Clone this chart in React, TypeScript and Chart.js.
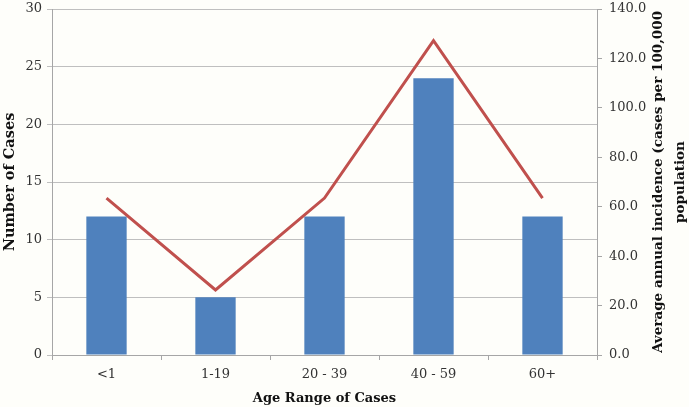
import React, { useEffect, useRef } from "react";
import { Chart, registerables } from "chart.js";

Chart.register(...registerables);

const categories = ["<1", "1-19", "20 - 39", "40 - 59", "60+"];
const caseCounts = [12, 5, 12, 24, 12];
const incidence = [63.5, 26.3, 63.5, 127.2, 63.5];
const rightTitle = ["Average annual incidence (cases per 100,000", "population"];

const FONT = "'DejaVu Serif', 'Liberation Serif', serif";

const bgPlugin = {
  id: "bg",
  beforeDraw(chart: any) {
    const { ctx, width, height } = chart;
    ctx.save();
    ctx.fillStyle = "#FEFEFA";
    ctx.fillRect(0, 0, width, height);
    ctx.restore();
  },
};

const rightTitlePlugin = {
  id: "rightTitle",
  afterDraw(chart: any) {
    const { ctx, chartArea, width } = chart;
    const cy = (chartArea.top + chartArea.bottom) / 2;
    ctx.save();
    ctx.fillStyle = "#111";
    ctx.font = `bold 13.5px ${FONT}`;
    ctx.textAlign = "center";
    ctx.textBaseline = "middle";
    const xs = [width - 31, width - 9];
    rightTitle.forEach((line, i) => {
      ctx.save();
      ctx.translate(xs[i], cy);
      ctx.rotate(-Math.PI / 2);
      ctx.fillText(line, 0, 0);
      ctx.restore();
    });
    ctx.restore();
  },
};

export default function App() {
  const ref = useRef<HTMLCanvasElement>(null);
  useEffect(() => {
    if (!ref.current) return;
    const chart = new Chart(ref.current, {
      type: "bar",
      data: {
        labels: categories,
        datasets: [
          {
            type: "line",
            label: "Incidence",
            data: incidence,
            yAxisID: "y1",
            borderColor: "#C0504D",
            borderWidth: 3,
            pointRadius: 0,
            tension: 0,
            order: 0,
          },
          {
            type: "bar",
            label: "Cases",
            data: caseCounts,
            yAxisID: "y",
            backgroundColor: "#4F81BD",
            borderWidth: 0,
            barPercentage: 0.37,
            categoryPercentage: 1,
            order: 1,
          },
        ],
      },
      options: {
        animation: false,
        responsive: false,
        layout: { padding: { top: 9, right: 0, left: 2, bottom: 0 } },
        plugins: { legend: { display: false }, tooltip: { enabled: false } },
        scales: {
          x: {
            afterFit: (s: any) => {
              s.height = 52;
              s.paddingLeft = 0;
              s.paddingRight = 0;
            },
            grid: {
              offset: true,
              drawOnChartArea: false,
              drawTicks: true,
              tickLength: 5,
              color: "#A6A6A6",
            },
            border: { color: "#A6A6A6" },
            ticks: { color: "#333", font: { family: FONT, size: 13 }, padding: 7 },
            title: {
              display: true,
              text: "Age Range of Cases",
              color: "#111",
              font: { family: FONT, size: 13, weight: "bold" },
              padding: { top: 1, bottom: 1 },
            },
          },
          y: {
            position: "left",
            min: 0,
            max: 30,
            afterFit: (s: any) => {
              s.width = 50;
              s.paddingTop = 0;
              s.paddingBottom = 0;
            },
            ticks: { stepSize: 5, color: "#333", font: { family: FONT, size: 13 }, padding: 5 },
            grid: { color: "#BFBFBF", tickLength: 5 },
            border: { color: "#A6A6A6" },
            title: {
              display: true,
              text: "Number of Cases",
              color: "#111",
              font: { family: FONT, size: 14.5, weight: "bold" },
              padding: { top: 0, bottom: 2 },
            },
          },
          y1: {
            position: "right",
            min: 0,
            max: 140,
            afterFit: (s: any) => {
              s.width = 92;
              s.paddingTop = 0;
              s.paddingBottom = 0;
            },
            ticks: {
              stepSize: 20,
              color: "#333",
              font: { family: FONT, size: 13 },
              padding: 7,
              callback: (v: any) => Number(v).toFixed(1),
            },
            grid: { drawOnChartArea: false, color: "#A6A6A6", tickLength: 5 },
            border: { color: "#A6A6A6" },
          },
        },
      },
      plugins: [bgPlugin, rightTitlePlugin],
    });
    return () => chart.destroy();
  }, []);
  return (
    <div style={{ position: "absolute", left: 0, top: 0, width: 689, height: 407 }}>
      <canvas ref={ref} width={689} height={407} style={{ display: "block" }} />
    </div>
  );
}
